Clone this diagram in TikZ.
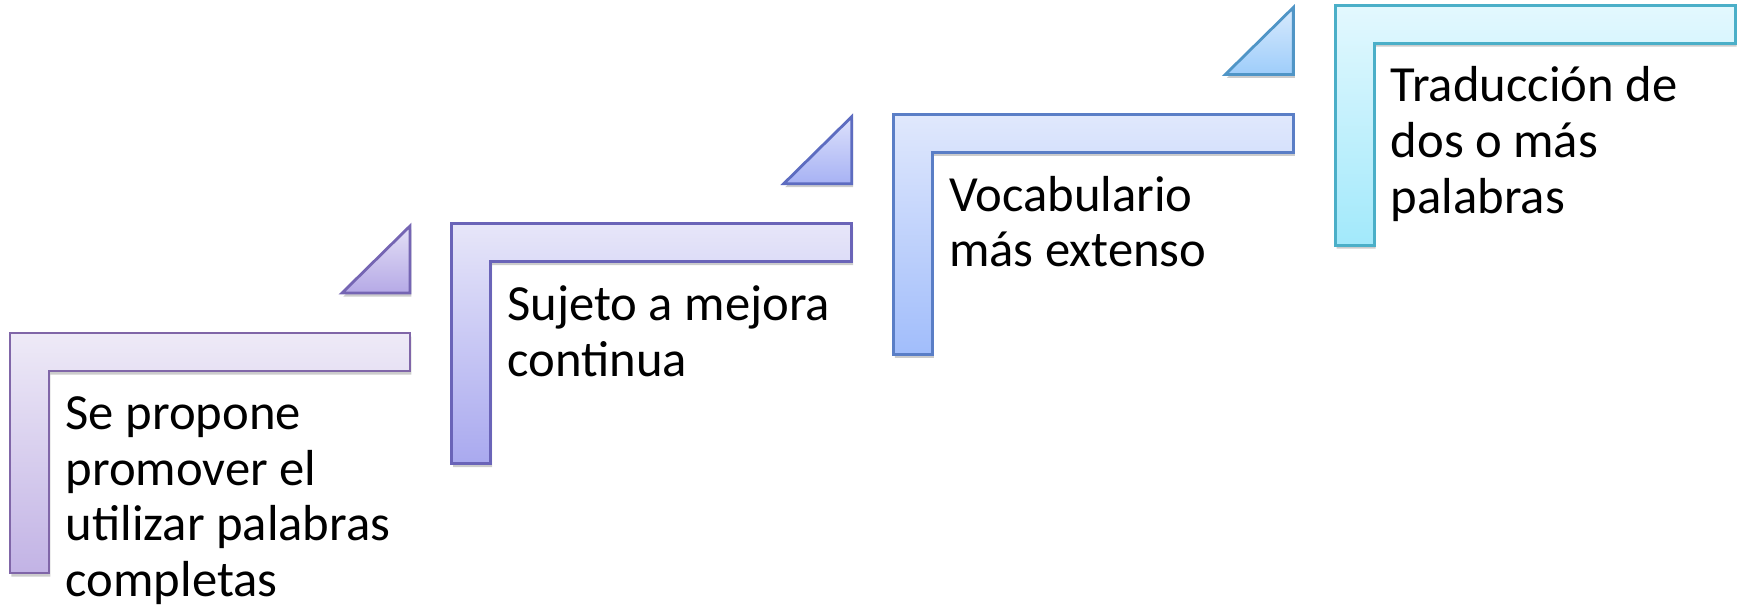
\documentclass[tikz,border=0pt]{standalone}
\usepackage{fontspec}
\setmainfont{Carlito}
\usetikzlibrary{shadows}
\definecolor{stepTop0}{HTML}{EEEAF7}
\definecolor{stepBot0}{HTML}{C2B3E5}
\definecolor{stepLine0}{HTML}{8066A8}
\definecolor{stepTop1}{HTML}{E7E6F9}
\definecolor{stepBot1}{HTML}{A9A9EF}
\definecolor{stepLine1}{HTML}{6A64B8}
\definecolor{stepTop2}{HTML}{E0E8FC}
\definecolor{stepBot2}{HTML}{A1BDFB}
\definecolor{stepLine2}{HTML}{5A7EC6}
\definecolor{stepTop3}{HTML}{E3F8FE}
\definecolor{stepBot3}{HTML}{A2E9FB}
\definecolor{stepLine3}{HTML}{4BAFC8}
\definecolor{triTop0}{HTML}{E4E0F6}
\definecolor{triBot0}{HTML}{B5A9E6}
\definecolor{triLine0}{HTML}{7565B3}
\definecolor{triTop1}{HTML}{DDE1FB}
\definecolor{triBot1}{HTML}{A7B2F4}
\definecolor{triLine1}{HTML}{5D6CC0}
\definecolor{triTop2}{HTML}{D8EAFD}
\definecolor{triBot2}{HTML}{9ECDFA}
\definecolor{triLine2}{HTML}{5095C6}
\tikzset{
    stair_step/.style={
        line width=0.8pt,
        line join=miter,
        drop shadow={shadow xshift=0.4pt, shadow yshift=-1pt, opacity=0.2, fill=black}
    },
    stair_label/.style={
        anchor=base west,
        align=left,
        inner sep=0pt,
        text=black,
        font=\fontsize{14.4}{15.8}\selectfont
    }
}

\begin{document}
\begin{tikzpicture}[x=0.01cm, y=-0.01cm]
    \useasboundingbox (0,0) rectangle (1738,608);

    \foreach \i in {0,...,3} {
        \pgfmathsetmacro{\xl}{10+441.7*\i}
        \pgfmathsetmacro{\yt}{333-109.3*\i}
        \coordinate (s\i) at (\xl,\yt);
        \path[stair_step, draw=stepLine\i, top color=stepTop\i, bottom color=stepBot\i]
            (s\i) -- ++(400,0) -- ++(0,38) -- ++(-361,0) -- ++(0,202) -- ++(-39,0) -- cycle;
    }

    \foreach \i in {0,1,2} {
        \coordinate (c\i) at ([shift={(400,-40)}]s\i);
        \path[stair_step, draw=triLine\i, top color=triTop\i, bottom color=triBot\i]
            (c\i) -- ++(0,-67) -- ++(-68,67) -- cycle;
    }

    % base anchor sits on the last line
    \node[stair_label] (t0) at ([shift={(55,263.5)}]s0) {Se propone\\promover el\\utilizar palabras\\completas};
    \node[stair_label] (t1) at ([shift={(55,152.5)}]s1) {Sujeto a mejora\\continua};
    \node[stair_label] (t2) at ([shift={(55,152.5)}]s2) {Vocabulario\\más extenso};
    \node[stair_label] (t3) at ([shift={(55,208)}]s3) {Traducción de\\dos o más\\palabras};
\end{tikzpicture}
\end{document}
